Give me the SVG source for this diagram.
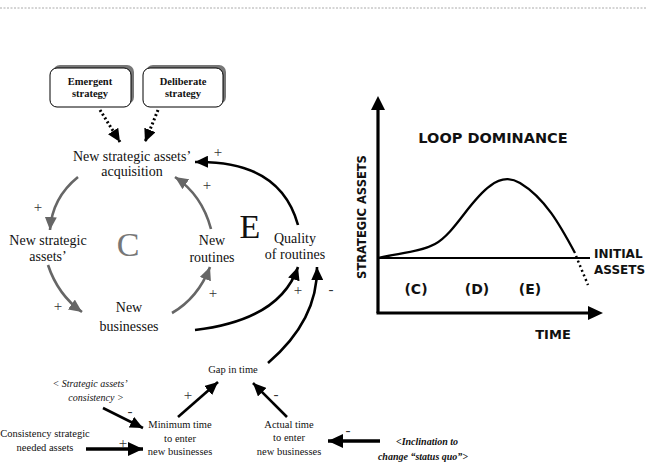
<svg xmlns="http://www.w3.org/2000/svg" width="647" height="468" viewBox="0 0 647 468">
  <style>
    .serif { font-family: "Liberation Serif", "Times New Roman", serif; fill: #111; }
    .lbl { font-size: 14px; }
    .sm { font-size: 10.5px; }
    .box-t { font-size: 10.5px; font-weight: bold; }
    .ital { font-style: italic; font-size: 10px; }
    .sign { font-size: 15px; fill: #333; }
    .sans { font-family: "DejaVu Sans", Verdana, sans-serif; font-weight: bold; fill: #111; }
    .gray-arc { fill: none; stroke: #666; stroke-width: 2.6; marker-end: url(#ahGray); }
    .black-arc { fill: none; stroke: #000; stroke-width: 2.6; marker-end: url(#ahBlack); }
    .thick { fill: none; stroke: #000; stroke-width: 3.5; marker-end: url(#ahBig); }
    .dotted { fill: none; stroke: #000; stroke-width: 3; stroke-dasharray: 2 2.5; marker-end: url(#ahBlack); }
  </style>
  <defs>
    <marker id="ahGray" markerUnits="userSpaceOnUse" markerWidth="14" markerHeight="12" refX="13" refY="6" orient="auto">
      <path d="M0,0 L13,6 L0,12 z" fill="#666"/>
    </marker>
    <marker id="ahBlack" markerUnits="userSpaceOnUse" markerWidth="14" markerHeight="12" refX="13" refY="6" orient="auto">
      <path d="M0,0 L13,6 L0,12 z" fill="#000"/>
    </marker>
    <marker id="ahBig" markerUnits="userSpaceOnUse" markerWidth="16" markerHeight="14" refX="15" refY="7" orient="auto">
      <path d="M0,0 L15,7 L0,14 z" fill="#000"/>
    </marker>
  </defs>

  <rect width="647" height="468" fill="#fff"/>

  <!-- page rule -->
  <line x1="0" y1="8" x2="647" y2="8" stroke="#aaa" stroke-width="1" stroke-dasharray="2 1.5"/>

  <!-- strategy boxes -->
  <g id="emergent">
    <rect x="53" y="65" width="81" height="39" rx="7" fill="#777"/>
    <rect x="50" y="68" width="81" height="39" rx="7" fill="#fff" stroke="#000" stroke-width="1"/>
    <text class="serif box-t" x="90" y="85" text-anchor="middle">Emergent</text>
    <text class="serif box-t" x="90" y="97" text-anchor="middle">strategy</text>
  </g>
  <g id="deliberate">
    <rect x="146" y="65" width="80" height="39" rx="7" fill="#777"/>
    <rect x="143" y="68" width="80" height="39" rx="7" fill="#fff" stroke="#000" stroke-width="1"/>
    <text class="serif box-t" x="183" y="85" text-anchor="middle">Deliberate</text>
    <text class="serif box-t" x="183" y="97" text-anchor="middle">strategy</text>
  </g>

  <!-- causal loop nodes -->
  <g id="acquisition">
    <text class="serif lbl" x="132" y="161" text-anchor="middle">New strategic assets’</text>
    <text class="serif lbl" x="132" y="176" text-anchor="middle">acquisition</text>
  </g>
  <g id="new-assets">
    <text class="serif lbl" x="48" y="245" text-anchor="middle">New strategic</text>
    <text class="serif lbl" x="48" y="261" text-anchor="middle">assets’</text>
  </g>
  <g id="new-businesses">
    <text class="serif lbl" x="129" y="312" text-anchor="middle">New</text>
    <text class="serif lbl" x="129" y="331" text-anchor="middle">businesses</text>
  </g>
  <g id="new-routines">
    <text class="serif lbl" x="212" y="245" text-anchor="middle">New</text>
    <text class="serif lbl" x="212" y="262" text-anchor="middle">routines</text>
  </g>
  <g id="quality">
    <text class="serif lbl" x="295" y="243" text-anchor="middle">Quality</text>
    <text class="serif lbl" x="295" y="259" text-anchor="middle">of routines</text>
  </g>
  <g id="loop-labels">
    <text x="128" y="256" text-anchor="middle" font-family="Liberation Serif, serif" font-size="34" fill="#777">C</text>
    <text x="250" y="238" text-anchor="middle" font-family="Liberation Serif, serif" font-size="34" fill="#111">E</text>
  </g>
  <g id="gap">
    <text class="serif sm" x="233" y="373" text-anchor="middle">Gap in time</text>
  </g>
  <g id="minimum-time">
    <text class="serif sm" x="180" y="428" text-anchor="middle">Minimum time</text>
    <text class="serif sm" x="180" y="442" text-anchor="middle">to enter</text>
    <text class="serif sm" x="180" y="455" text-anchor="middle">new  businesses</text>
  </g>
  <g id="actual-time">
    <text class="serif sm" x="289" y="428" text-anchor="middle">Actual  time</text>
    <text class="serif sm" x="289" y="441" text-anchor="middle">to enter</text>
    <text class="serif sm" x="289" y="455" text-anchor="middle">new  businesses</text>
  </g>
  <g id="assets-consistency">
    <text class="serif ital" x="90" y="387" text-anchor="middle">&lt; Strategic assets’</text>
    <text class="serif ital" x="96" y="401" text-anchor="middle">consistency &gt;</text>
  </g>
  <g id="consistency-needed">
    <text class="serif sm" x="45" y="437" text-anchor="middle">Consistency strategic</text>
    <text class="serif sm" x="45" y="451" text-anchor="middle">needed assets</text>
  </g>
  <g id="inclination">
    <text class="serif ital" x="427" y="445" text-anchor="middle" font-weight="bold">&lt;Inclination to</text>
    <text class="serif ital" x="423" y="460" text-anchor="middle" font-weight="bold">change  “status quo”&gt;</text>
  </g>

  <!-- connectors -->
  <g id="connectors">
    <path class="dotted" d="M100,110 L120,142"/>
    <path class="dotted" d="M158,110 L145,142"/>
    <path class="gray-arc" d="M78,177 Q52,198 50,230"/>
    <path class="gray-arc" d="M48,265 Q58,295 82,312"/>
    <path class="gray-arc" d="M172,313 Q198,298 210,267"/>
    <path class="gray-arc" d="M211,229 Q202,195 175,177"/>
    <path class="black-arc" d="M298,225 Q280,160 195,162"/>
    <path class="black-arc" d="M195,330 Q280,320 298,267"/>
    <path class="black-arc" d="M268,363 Q318,320 317,267"/>
    <path class="black-arc" d="M178,417 L218,382"/>
    <path class="black-arc" d="M287,417 L253,383"/>
    <path class="black-arc" stroke-width="3" d="M103,408 L143,428"/>
    <path class="thick" d="M86,449 L143,449"/>
    <path class="thick" d="M380,441 L328,441"/>
  </g>

  <!-- polarity signs -->
  <g id="signs" text-anchor="middle">
    <text class="serif sign" x="38" y="212">+</text>
    <text class="serif sign" x="58" y="311">+</text>
    <text class="serif sign" x="213" y="298">+</text>
    <text class="serif sign" x="207" y="190">+</text>
    <text class="serif sign" x="218" y="157">+</text>
    <text class="serif sign" x="298" y="295">+</text>
    <text class="serif sign" x="331" y="294">-</text>
    <text class="serif sign" x="188" y="400">+</text>
    <text class="serif sign" x="276" y="399">-</text>
    <text class="serif sign" x="130" y="416">-</text>
    <text class="serif sign" x="123" y="448">+</text>
    <text class="serif sign" x="348" y="435">-</text>
  </g>

  <!-- loop dominance chart -->
  <g id="chart">
    <line x1="378" y1="313" x2="378" y2="108" stroke="#000" stroke-width="3.2"/>
    <path d="M371,110 L378,96 L385,110 z" fill="#000"/>
    <line x1="376.5" y1="313" x2="590" y2="313" stroke="#000" stroke-width="3.2"/>
    <path d="M588,306 L603,313 L588,320 z" fill="#000"/>
    <line x1="378" y1="258" x2="590" y2="258" stroke="#000" stroke-width="2"/>
    <path d="M378,258 C400,253 420,252 435,244 C455,233 470,200 490,186 C500,178 510,177 520,183 C545,198 560,225 575,253" fill="none" stroke="#000" stroke-width="2.3"/>
    <path d="M576,256 L588,285" fill="none" stroke="#000" stroke-width="2.5" stroke-dasharray="2 3"/>
    <text class="sans" x="493" y="143" font-size="14.5" text-anchor="middle">LOOP DOMINANCE</text>
    <text class="sans" font-size="11.5" text-anchor="middle" transform="translate(366,217) rotate(-90)">STRATEGIC ASSETS</text>
    <text class="sans" x="594" y="258" font-size="12">INITIAL</text>
    <text class="sans" x="594" y="274" font-size="12">ASSETS</text>
    <text class="sans" x="416" y="294" font-size="14" text-anchor="middle">(C)</text>
    <text class="sans" x="477" y="294" font-size="14" text-anchor="middle">(D)</text>
    <text class="sans" x="530" y="294" font-size="14" text-anchor="middle">(E)</text>
    <text class="sans" x="553" y="339" font-size="13" text-anchor="middle">TIME</text>
  </g>
</svg>
